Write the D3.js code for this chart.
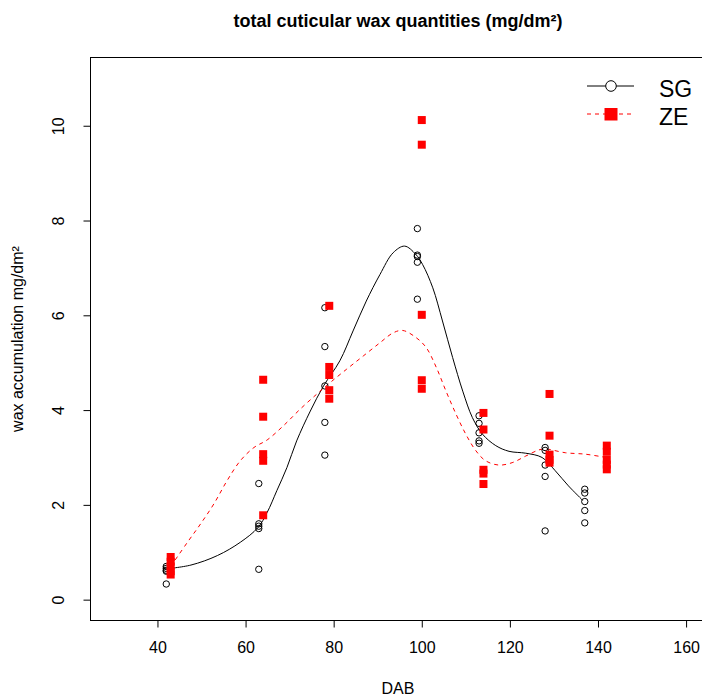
<!DOCTYPE html>
<html>
<head>
<meta charset="utf-8">
<script src="https://cdn.jsdelivr.net/npm/d3@7"></script>
<style>
  body { margin: 0; background: #fff; }
  text { font-family: "Liberation Sans", Arial, sans-serif; }
</style>
</head>
<body>
<script>
// chart size
const w = 702;
const h = 697;

// raw measurements, SG (open circles)
const sgDays = [42, 63, 78, 99, 113, 128, 137];
const sgValues = [
  [0.70, 0.66, 0.62, 0.60, 0.33],
  [2.45, 1.60, 1.55, 1.50, 0.64],
  [6.16, 5.34, 4.51, 3.74, 3.05],
  [7.83, 7.27, 7.24, 7.12, 6.34],
  [3.88, 3.72, 3.52, 3.35, 3.30],
  [3.21, 3.15, 2.84, 2.60, 1.45],
  [2.33, 2.25, 2.07, 1.88, 1.62]
];

// raw measurements, ZE (filled squares)
const zeDays = [43, 64, 79, 100, 114, 129, 142];
const zeValues = [
  [0.90, 0.80, 0.70, 0.60, 0.53],
  [4.64, 3.86, 3.07, 2.93, 1.78],
  [6.20, 4.91, 4.74, 4.42, 4.24],
  [10.12, 9.60, 6.01, 4.63, 4.45],
  [3.94, 3.59, 2.74, 2.66, 2.44],
  [4.34, 3.46, 3.06, 2.95, 2.89],
  [3.25, 3.12, 2.95, 2.85, 2.75]
];

// smoothed curves
const sgFitX = [42, 47.6, 53.6, 58.8, 62.8, 64.9, 67.1, 69.4, 71.6, 74.7, 77.7, 81.4, 84.4, 87.4, 90.5, 93.5, 96.1, 98.6, 100.2, 102.5, 104.7, 107.0, 109.3, 111.5, 113.8, 116.8, 119.8, 123.6, 127.3, 130.3, 133.3, 136.6];
const sgFitY = [0.65, 0.73, 0.93, 1.21, 1.52, 1.84, 2.30, 2.79, 3.35, 3.98, 4.51, 5.04, 5.67, 6.30, 6.86, 7.32, 7.46, 7.29, 7.07, 6.58, 5.88, 5.11, 4.40, 3.84, 3.49, 3.25, 3.13, 3.09, 3.00, 2.72, 2.40, 2.09];
const zeFitX = [43, 46.8, 49.8, 52.8, 55.8, 58.8, 61.9, 64.9, 68.6, 72.4, 76.2, 79.2, 82.9, 86.7, 90.5, 93.5, 95.7, 98.7, 101.0, 103.3, 105.5, 107.8, 110.0, 112.3, 114.5, 117.5, 120.5, 123.6, 126.6, 128.1, 132.6, 137.1, 141.2];
const zeFitY = [0.70, 1.21, 1.60, 2.02, 2.51, 2.93, 3.21, 3.37, 3.67, 4.02, 4.34, 4.58, 4.86, 5.14, 5.42, 5.63, 5.68, 5.53, 5.32, 4.90, 4.40, 3.91, 3.49, 3.14, 2.93, 2.84, 2.89, 3.03, 3.16, 3.18, 3.10, 3.07, 3.01];

const xTicks = [40, 60, 80, 100, 120, 140, 160];
const yTicks = [0, 2, 4, 6, 8, 10];
const legendLabels = ["SG", "ZE"];

// plot region (R style: box goes past the right edge)
const pLeft = 90.5, pRight = 709, pTop = 57.5, pBottom = 620.5;

let svg = d3.select("body")
  .append("svg")
  .attr("width", w)
  .attr("height", h);

let x = d3.scaleLinear().domain([24.8, 165.2]).range([pLeft, pRight]);
let y = d3.scaleLinear().domain([-0.44, 11.44]).range([pBottom, pTop]);

// title
svg.append("text")
  .attr("x", 398).attr("y", 26.5)
  .attr("text-anchor", "middle")
  .attr("font-weight", "bold")
  .attr("font-size", 18)
  .text("total cuticular wax quantities (mg/dm²)");

// box
svg.append("rect")
  .attr("x", pLeft).attr("y", pTop)
  .attr("width", pRight - pLeft).attr("height", pBottom - pTop)
  .attr("fill", "none").attr("stroke", "#000").attr("stroke-width", 1);

// x axis
let xAxis = d3.axisBottom(x).tickValues(xTicks).tickSize(7).tickPadding(14);
let gx = svg.append("g").attr("transform", `translate(0,${pBottom})`).call(xAxis);
gx.select(".domain").remove();
gx.selectAll("text").attr("font-size", 16).attr("font-family", "Liberation Sans, Arial, sans-serif");

svg.append("text")
  .attr("x", 398).attr("y", 694)
  .attr("text-anchor", "middle")
  .attr("font-size", 16)
  .text("DAB");

// y axis
let yAxis = d3.axisLeft(y).tickValues(yTicks).tickSize(7).tickPadding(0);
let gy = svg.append("g").attr("transform", `translate(${pLeft},0)`).call(yAxis);
gy.select(".domain").remove();
gy.selectAll("text")
  .attr("font-size", 16)
  .attr("font-family", "Liberation Sans, Arial, sans-serif")
  .attr("text-anchor", "middle")
  .attr("dy", null)
  .attr("x", null)
  .attr("transform", "translate(-33,0) rotate(-90)")
  .attr("y", 6);

svg.append("text")
  .attr("transform", `translate(23,${(pTop + pBottom) / 2}) rotate(-90)`)
  .attr("text-anchor", "middle")
  .attr("font-size", 16)
  .text("wax accumulation mg/dm²");

// fitted curves
let curve = d3.line().x(d => x(d[0])).y(d => y(d[1])).curve(d3.curveCatmullRom);

svg.append("path")
  .datum(d3.zip(sgFitX, sgFitY))
  .attr("d", curve)
  .attr("fill", "none").attr("stroke", "#000").attr("stroke-width", 1);

svg.append("path")
  .datum(d3.zip(zeFitX, zeFitY))
  .attr("d", curve)
  .attr("fill", "none").attr("stroke", "#ff0000").attr("stroke-width", 1)
  .attr("stroke-dasharray", "4,4");

// points
let sgPts = sgDays.flatMap((d, i) => sgValues[i].map(v => [d, v]));
let zePts = zeDays.flatMap((d, i) => zeValues[i].map(v => [d, v]));

svg.append("g").selectAll("circle")
  .data(sgPts)
  .enter()
  .append("circle")
  .attr("cx", d => x(d[0]))
  .attr("cy", d => y(d[1]))
  .attr("r", 3.2)
  .attr("fill", "none")
  .attr("stroke", "#000");

svg.append("g").selectAll("rect")
  .data(zePts)
  .enter()
  .append("rect")
  .attr("x", d => x(d[0]) - 4)
  .attr("y", d => y(d[1]) - 4)
  .attr("width", 8)
  .attr("height", 8)
  .attr("fill", "#ff0000");

// legend
let lg = svg.append("g");
lg.append("line").attr("x1", 587).attr("x2", 634).attr("y1", 86).attr("y2", 86)
  .attr("stroke", "#000");
lg.append("circle").attr("cx", 611).attr("cy", 86).attr("r", 5.3)
  .attr("fill", "#fff").attr("stroke", "#000");
lg.append("line").attr("x1", 587).attr("x2", 634).attr("y1", 114).attr("y2", 114)
  .attr("stroke", "#ff0000").attr("stroke-dasharray", "4,4");
lg.append("rect").attr("x", 604.5).attr("y", 108).attr("width", 13).attr("height", 12.5)
  .attr("fill", "#ff0000");
lg.selectAll("text.lab")
  .data(legendLabels)
  .enter()
  .append("text")
  .attr("class", "lab")
  .attr("x", 659)
  .attr("y", (d, i) => 96.5 + i * 28.5)
  .attr("font-size", 23)
  .text(d => d);
</script>
</body>
</html>
